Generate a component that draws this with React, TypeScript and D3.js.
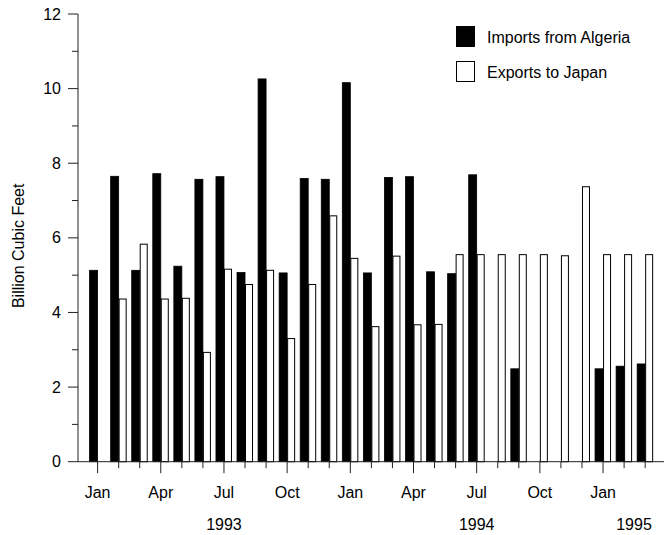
import React from "react";
import * as d3 from "d3";

const months = ["Jan","Feb","Mar","Apr","May","Jun","Jul","Aug","Sep","Oct","Nov","Dec","Jan","Feb","Mar","Apr","May","Jun","Jul","Aug","Sep","Oct","Nov","Dec","Jan","Feb","Mar"];
const imports = [5.13, 7.65, 5.13, 7.72, 5.24, 7.57, 7.64, 5.07, 10.26, 5.06, 7.59, 7.57, 10.16, 5.06, 7.62, 7.64, 5.09, 5.04, 7.69, 0, 2.49, 0, 0, 0, 2.49, 2.56, 2.62];
const exportsJ = [0, 4.36, 5.83, 4.36, 4.38, 2.93, 5.16, 4.75, 5.13, 3.30, 4.75, 6.59, 5.45, 3.62, 5.51, 3.67, 3.68, 5.55, 5.55, 5.55, 5.55, 5.55, 5.52, 7.37, 5.55, 5.55, 5.55];
const labeledMonths = ["Jan", "Apr", "Jul", "Oct"];
const yearLabels = [
  { label: "1993", pos: 6 },
  { label: "1994", pos: 18 },
  { label: "1995", pos: 25.47 },
];
const yTicks = [0, 2, 4, 6, 8, 10, 12];
const yMinor = [1, 3, 5, 7, 9, 11];
const legendItems = [
  { label: "Imports from Algeria", fill: "#000" },
  { label: "Exports to Japan", fill: "#fff" },
];

const W = 664, H = 535;
const FONT = "'Liberation Sans', Arial, sans-serif";

export default function App() {
  const x = d3.scaleLinear().domain([0, months.length - 1]).range([97.6, 97.6 + 21.06 * (months.length - 1)]);
  const y = d3.scaleLinear().domain([0, 12]).range([461.7, 14]);
  const bw = 8;
  const axisX = 78;
  const axisY = y(0);
  const ink = "#222";

  return (
    <svg width={W} height={H} style={{ position: "absolute", left: 0, top: 0, background: "#fff" }} fontFamily={FONT}>
      <rect x={0} y={0} width={W} height={H} fill="#fff" />
      {/* bars */}
      {imports.map((v, i) =>
        v > 0 ? (
          <rect key={"i" + i} x={x(i) - bw} y={y(v)} width={bw} height={axisY - y(v)} fill="#000" stroke="#000" strokeWidth={0.8} />
        ) : null
      )}
      {exportsJ.map((v, i) =>
        v > 0 ? (
          <rect key={"e" + i} x={x(i) + 0.5} y={y(v)} width={bw - 1} height={axisY - y(v)} fill="#fff" stroke="#000" strokeWidth={1} />
        ) : null
      )}
      {/* y axis */}
      <line x1={axisX} x2={axisX} y1={y(12)} y2={axisY} stroke={ink} strokeWidth={1} />
      {yTicks.map((t) => (
        <g key={"yt" + t}>
          <line x1={axisX - 10} x2={axisX} y1={y(t)} y2={y(t)} stroke={ink} strokeWidth={1} />
          <text x={61} y={y(t)} textAnchor="end" dominantBaseline="central" fontSize={16} fill="#000">{t}</text>
        </g>
      ))}
      {yMinor.map((t) => (
        <line key={"ym" + t} x1={axisX - 6} x2={axisX} y1={y(t)} y2={y(t)} stroke={ink} strokeWidth={1} />
      ))}
      <text transform={`translate(18, ${(y(12) + axisY) / 2 + 8}) rotate(-90)`} textAnchor="middle" dominantBaseline="central" fontSize={16} fill="#000">
        Billion Cubic Feet
      </text>
      {/* x axis */}
      <line x1={axisX} x2={W} y1={axisY} y2={axisY} stroke={ink} strokeWidth={1} />
      {months.map((m, i) => {
        const long = labeledMonths.includes(m);
        return (
          <g key={"xt" + i}>
            <line x1={x(i)} x2={x(i)} y1={axisY} y2={axisY + (long ? 11.5 : 6.5)} stroke={ink} strokeWidth={1} />
            {long ? (
              <text x={x(i)} y={498} textAnchor="middle" fontSize={16} fill="#000">{m}</text>
            ) : null}
          </g>
        );
      })}
      {yearLabels.map((yl) => (
        <text key={yl.label} x={x(yl.pos)} y={530} textAnchor="middle" fontSize={16} fill="#000">{yl.label}</text>
      ))}
      {/* legend */}
      {legendItems.map((it, k) => (
        <g key={it.label} transform={`translate(456, ${26 + k * 35})`}>
          <rect x={0.5} y={0.5} width={18} height={20} fill={it.fill} stroke="#000" strokeWidth={1} />
          <text x={31} y={11} dominantBaseline="central" fontSize={16} fill="#000">{it.label}</text>
        </g>
      ))}
    </svg>
  );
}
